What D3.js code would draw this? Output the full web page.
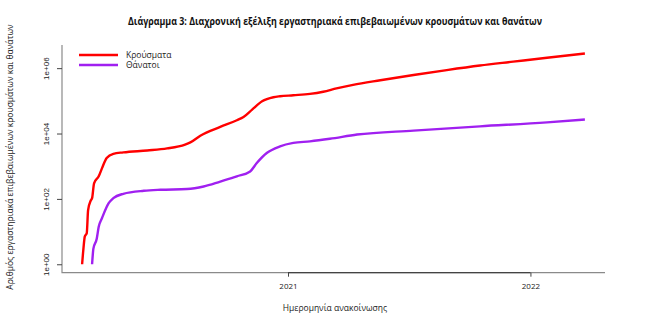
<!DOCTYPE html>
<html><head><meta charset="utf-8">
<script src="https://cdn.jsdelivr.net/npm/d3@7"></script>
<style>html,body{margin:0;padding:0;background:#fff;}svg{display:block;font-family:"Open Sans","Liberation Sans",sans-serif;}</style>
</head><body>
<svg id="chart" width="650" height="323"></svg>
<script>
const title = "Διάγραμμα 3: Διαχρονική εξέλιξη εργαστηριακά επιβεβαιωμένων κρουσμάτων και θανάτων";
const xTitle = "Ημερομηνία ανακοίνωσης";
const yTitle = "Αριθμός εργαστηριακά επιβεβαιωμένων κρουσμάτων και θανάτων";
const seriesNames = ["Κρούσματα", "Θάνατοι"];
const seriesColors = ["#ff0000", "#a020f0"];
const xTickDates = ["2021-01-01", "2022-01-01"];
const xTickLabels = ["2021", "2022"];
const yTickValues = [1, 100, 10000, 1000000];
const yTickLabels = ["1e+00", "1e+02", "1e+04", "1e+06"];

const casesDates = ["2020-02-26","2020-02-28","2020-03-01","2020-03-04","2020-03-06","2020-03-10","2020-03-12","2020-03-15","2020-03-22","2020-03-27","2020-04-03","2020-04-13","2020-04-28","2020-06-03","2020-07-03","2020-07-30","2020-08-07","2020-08-22","2020-09-21","2020-10-16","2020-10-26","2020-11-08","2020-11-23","2020-12-10","2020-12-20","2021-01-09","2021-02-03","2021-02-23","2021-03-15","2021-04-09","2021-05-20","2021-07-09","2021-08-28","2021-10-17","2021-12-06","2022-01-26","2022-03-24"];
const casesValues = [1,3,7,9,45,89,105,300,490,875,1780,2400,2650,3030,3500,4600,5370,8600,16000,25500,32000,54000,97000,129000,138000,148000,163000,190000,240000,309000,427000,617000,871000,1200000,1580000,2090000,2820000];

const deathsDates = ["2020-03-12","2020-03-14","2020-03-19","2020-03-22","2020-03-27","2020-04-06","2020-04-13","2020-04-28","2020-05-29","2020-06-23","2020-08-02","2020-08-27","2020-09-21","2020-10-16","2020-11-05","2020-11-15","2020-11-30","2020-12-20","2021-01-09","2021-02-03","2021-03-05","2021-04-15","2021-07-09","2021-10-17","2022-01-26","2022-03-24"];
const deathsValues = [1,3,6,14,26,74,105,143,177,190,200,240,340,490,690,1250,2530,4050,5150,5760,6900,9300,12300,16600,21900,26900];

const parse = d3.utcParse("%Y-%m-%d");
const series = [
  casesDates.map((d,i)=>({date:parse(d), value:casesValues[i]})),
  deathsDates.map((d,i)=>({date:parse(d), value:deathsValues[i]}))
];

const svg = d3.select("#chart");
const mLeft = 62, mRight = 605, mTop = 45, mBottom = 272.7;

// R-style 4% padding of data extents
const allDates = series.flat().map(d=>d.date);
const [d0, d1] = d3.extent(allDates);
const pad = (d1 - d0) * 0.04;
const x = d3.scaleUtc().domain([new Date(+d0 - pad), new Date(+d1 + pad)]).range([mLeft, mRight]);

const allVals = series.flat().map(d=>Math.log10(d.value));
const [l0, l1] = d3.extent(allVals);
const lp = (l1 - l0) * 0.04;
const y = d3.scaleLog().domain([Math.pow(10, l0 - lp), Math.pow(10, l1 + lp)]).range([mBottom, mTop]);

// L-shaped box
svg.append("path").attr("d", `M${mLeft},${mTop}V${mBottom}H${mRight}`)
  .attr("fill","none").attr("stroke","#8a8a8a").attr("stroke-width",1.2);

// x axis
const xg = svg.append("g").attr("transform", `translate(0,${mBottom})`)
  .call(d3.axisBottom(x).tickValues(xTickDates.map(parse)).tickFormat((d,i)=>xTickLabels[i]).tickSize(4).tickPadding(7));
xg.select(".domain").attr("stroke","#444").attr("stroke-width",1.2).attr("d", `M${x(parse(xTickDates[0]))},0H${x(parse(xTickDates[1]))}`);
xg.selectAll(".tick line").attr("stroke","#444");
xg.selectAll(".tick text").attr("font-size","8px").attr("fill","#222").attr("font-family","'Open Sans',sans-serif");

// y axis
const yg = svg.append("g").attr("transform", `translate(${mLeft},0)`)
  .call(d3.axisLeft(y).tickValues(yTickValues).tickFormat((d,i)=>yTickLabels[i]).tickSize(5));
yg.select(".domain").remove();
yg.selectAll(".tick line").attr("stroke","#444");
yg.selectAll(".tick text").attr("font-size","8px").attr("fill","#222")
  .attr("text-anchor","middle").attr("x",0).attr("dy",0)
  .attr("transform","translate(-15,0) rotate(-90)").attr("y",0).attr("dominant-baseline","middle");

// lines
const line = d3.line().x(d=>x(d.date)).y(d=>y(d.value)).curve(d3.curveMonotoneX);
series.forEach((s,i)=>{
  svg.append("path").datum(s).attr("d", line).attr("fill","none")
    .attr("stroke", seriesColors[i]).attr("stroke-width", 2.4).attr("stroke-linejoin","round");
});

// legend
seriesNames.forEach((n,i)=>{
  const ly = 55 + i*10;
  svg.append("line").attr("x1",79).attr("x2",118).attr("y1",ly).attr("y2",ly)
    .attr("stroke",seriesColors[i]).attr("stroke-width",2.4);
  svg.append("text").attr("x",126).attr("y",ly).attr("dy","0.35em")
    .attr("font-size","8.5px").attr("fill","#222").text(n);
});

// titles
svg.append("text").attr("x",335).attr("y",25).attr("text-anchor","middle")
  .attr("font-size","10.5px").attr("font-weight","bold").attr("fill","#111")
  .attr("textLength",414).attr("lengthAdjust","spacingAndGlyphs").text(title);
svg.append("text").attr("x",335).attr("y",311).attr("text-anchor","middle")
  .attr("font-size","8.5px").attr("fill","#222").text(xTitle);
svg.append("text").attr("transform","translate(13,157) rotate(-90)").attr("text-anchor","middle")
  .attr("font-size","8.5px").attr("fill","#222").text(yTitle);
</script>
</body></html>
